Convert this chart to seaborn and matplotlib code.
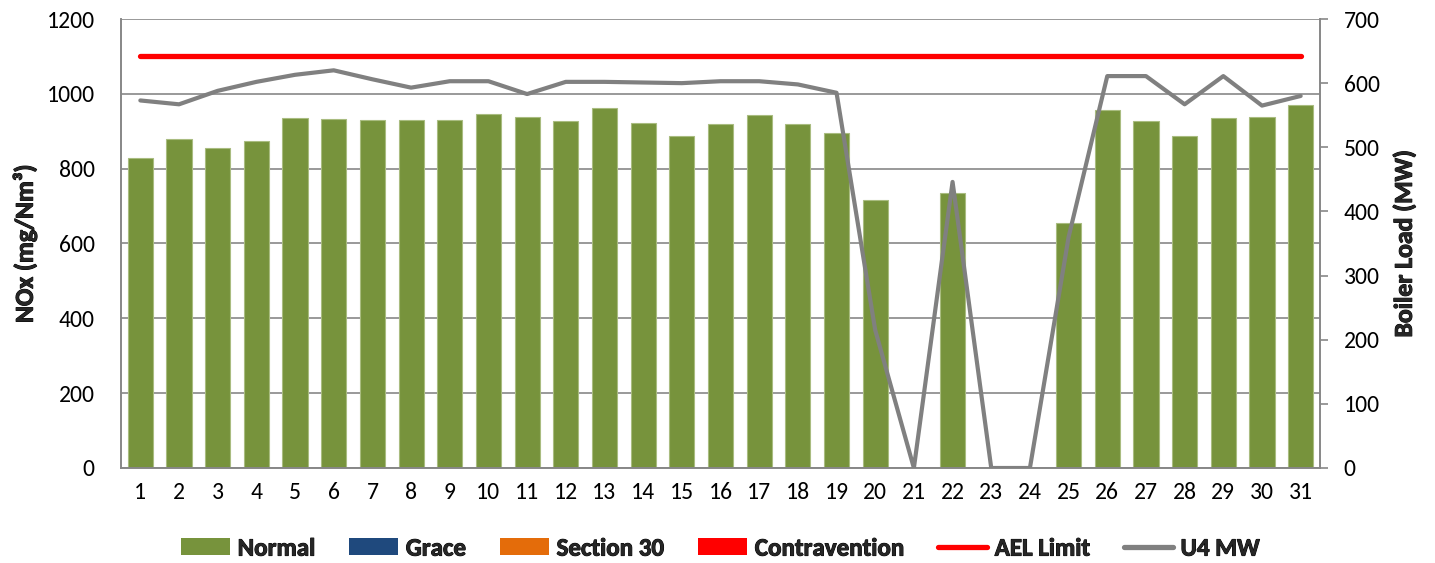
import numpy as np
import pandas as pd
import matplotlib
matplotlib.use("Agg")
import matplotlib.pyplot as plt
import matplotlib.patheffects as pe
from matplotlib.patches import Patch
from matplotlib.lines import Line2D
import seaborn as sns

# Daily NOx emissions and boiler load for the month
days = [str(d) for d in range(1, 32)]
nox_normal = [829, 879, 854, 873, 935, 933, 930, 930, 929, 947,
              939, 928, 963, 922, 888, 920, 943, 919, 896, 715,
              0, 734, 0, 0, 654, 956, 927, 886, 936, 939, 971]
u4_mw = [573, 567, 588, 602, 613, 620, 606, 593, 603, 603,
         583, 602, 602, 601, 600, 603, 603, 598, 585, 215,
         0, 446, 0, 0, 360, 611, 611, 567, 611, 565, 580]
ael_limit = [1100] * len(days)

legend_labels = ["Normal", "Grace", "Section 30", "Contravention", "AEL Limit", "U4 MW"]
c_normal = "#77933C"
c_grace = "#1F497D"
c_s30 = "#E46C0A"
c_contra = "#FF0000"
c_ael = "#FF0000"
c_mw = "#808080"
c_grid = "#878787"

sns.set_theme(style="white")
plt.rcParams["font.family"] = ["Carlito", "DejaVu Sans"]
FS = 17
FS_BOLD = 18.5
heavy = [pe.withStroke(linewidth=0.7, foreground="black")]

df = pd.DataFrame({"day": days, "nox": nox_normal, "mw": u4_mw, "ael": ael_limit})
df["pos"] = np.arange(len(days))

W, H = 1435, 563
fig = plt.figure(figsize=(W / 100, H / 100), dpi=100)
ax = fig.add_axes([121 / W, 1 - 468 / H, (1320 - 121) / W, (468 - 19) / H])

sns.barplot(data=df, x="day", y="nox", color=c_normal, width=0.65,
            saturation=1, edgecolor="#A9BC80", linewidth=0.8, ax=ax, zorder=2)
sns.lineplot(data=df, x="pos", y="ael", color=c_ael, linewidth=3.8,
             ax=ax, zorder=4, solid_capstyle="round")

ax.set_ylim(0, 1200)
ax.set_yticks(np.arange(0, 1201, 200))
ax.set_xlim(-0.5, len(days) - 0.5)
ax.yaxis.grid(True, color=c_grid, linewidth=1.2, zorder=0)
ax.set_axisbelow(True)
ax.set_xlabel("")
ax.set_ylabel("NOx (mg/Nm³)", fontsize=FS_BOLD, fontweight="bold", labelpad=7,
              path_effects=heavy)
ax.tick_params(axis="y", length=0, pad=19, labelsize=FS, colors="black")
ax.tick_params(axis="x", length=0, pad=10, labelsize=FS, colors="black")
for side in ["left", "bottom", "right", "top"]:
    ax.spines[side].set_color(c_grid)
    ax.spines[side].set_linewidth(1.2)
ax.spines["top"].set_visible(False)

ax2 = ax.twinx()
sns.lineplot(data=df, x="pos", y="mw", color=c_mw, linewidth=3.0, ax=ax2,
             zorder=3)
ax2.set_ylim(0, 700)
ax2.set_yticks(np.arange(0, 701, 100))
ax2.set_xlim(-0.5, len(days) - 0.5)
ax2.set_ylabel("Boiler Load (MW)", fontsize=FS_BOLD, fontweight="bold", labelpad=9,
               path_effects=heavy)
ax2.tick_params(axis="y", direction="out", length=6, width=1.2, color=c_grid,
                pad=11, labelsize=FS, labelcolor="black", right=True)
for side in ["left", "bottom", "right", "top"]:
    ax2.spines[side].set_color(c_grid)
    ax2.spines[side].set_linewidth(1.2)
ax2.spines["top"].set_visible(False)
ax2.grid(False)

handles = [
    Patch(facecolor=c_normal, edgecolor="none"),
    Patch(facecolor=c_grace, edgecolor="none"),
    Patch(facecolor=c_s30, edgecolor="none"),
    Patch(facecolor=c_contra, edgecolor="none"),
    Line2D([0], [0], color=c_ael, linewidth=3.8, solid_capstyle="round"),
    Line2D([0], [0], color=c_mw, linewidth=3.8, solid_capstyle="round"),
]
leg = fig.legend(handles, legend_labels, loc="center", bbox_to_anchor=(0.502, 0.025),
                 ncol=6, frameon=False, prop={"size": 18, "weight": "bold"},
                 handlelength=1.95, handleheight=0.68, handletextpad=0.32,
                 columnspacing=1.35)
for t in leg.get_texts():
    t.set_path_effects(heavy)

fig.savefig("out.png", dpi=100)
